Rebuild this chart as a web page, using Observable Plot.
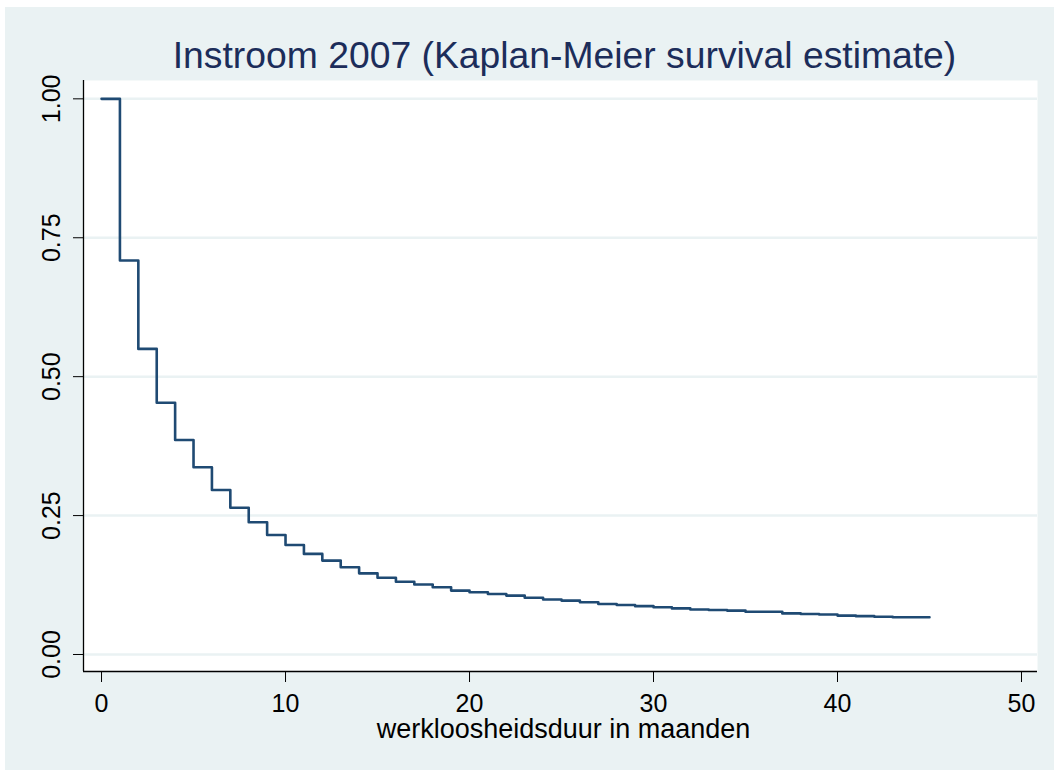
<!DOCTYPE html>
<html><head><meta charset="utf-8">
<script src="https://cdn.jsdelivr.net/npm/d3@7"></script>
<script src="https://cdn.jsdelivr.net/npm/@observablehq/plot@0.6"></script>
<style>
html,body{margin:0;padding:0;background:#fff;}
#chart{position:absolute;left:5px;top:7px;}
</style></head><body><div id="chart"></div>
<script>
const title = "Instroom 2007 (Kaplan-Meier survival estimate)";
const xLabel = "werkloosheidsduur in maanden";
const months = [0,1,2,3,4,5,6,7,8,9,10,11,12,13,14,15,16,17,18,19,20,21,22,23,24,25,26,27,28,29,30,31,32,33,34,35,36,37,38,39,40,41,42,43,44,45];
const survival = [1.000,0.709,0.550,0.453,0.386,0.337,0.296,0.264,0.238,0.215,0.197,0.181,0.169,0.157,0.146,0.138,0.131,0.126,0.121,0.115,0.112,0.109,0.106,0.102,0.099,0.097,0.094,0.091,0.089,0.087,0.085,0.083,0.081,0.080,0.079,0.077,0.077,0.074,0.073,0.072,0.070,0.069,0.068,0.067,0.067,0.067];
const xTicks = [0,10,20,30,40,50];
const yTicks = [0,0.25,0.5,0.75,1];
const data = months.map((m,i)=>({m, s: survival[i]}));
const xDomain = [-0.98, 50.87];
const yDomain = [-0.0306, 1.033];
const chart = Plot.plot({
  width: 1049, height: 763,
  marginLeft: 78, marginTop: 73, marginRight: 17, marginBottom: 99,
  style: {background:"#EAF2F3", fontFamily:"'Liberation Sans', Arial, sans-serif", color:"#000"},
  x: {domain: xDomain},
  y: {domain: yDomain},
  marks: [
    Plot.frame({fill:"white", stroke:"none"}),
    Plot.gridY(yTicks, {stroke:"#EAF2F3", strokeOpacity:1, strokeWidth:2.5}),
    Plot.axisY(yTicks, {tickFormat: d3.format(".2f"), tickRotate:-90, fontSize:25, tickSize:10, tickPadding:14, label:null}),
    Plot.axisX(xTicks, {fontSize:25, tickSize:11, tickPadding:12, label:null}),
    Plot.ruleX([xDomain[0]], {stroke:"#000", strokeWidth:1.3}),
    Plot.ruleY([yDomain[0]], {stroke:"#000", strokeWidth:1.3}),
    Plot.line(data, {x:"m", y:"s", curve:"step-after", stroke:"#1F4A73", strokeWidth:2.6}),
    Plot.text([title], {frameAnchor:"top", fontSize:37.3, fill:"#1c2d5a", dy:-39, dx:4}),
    Plot.text([xLabel], {frameAnchor:"bottom", fontSize:27, fill:"#000", dy:66, dx:3})
  ]
});
document.getElementById("chart").append(chart);
</script></body></html>
